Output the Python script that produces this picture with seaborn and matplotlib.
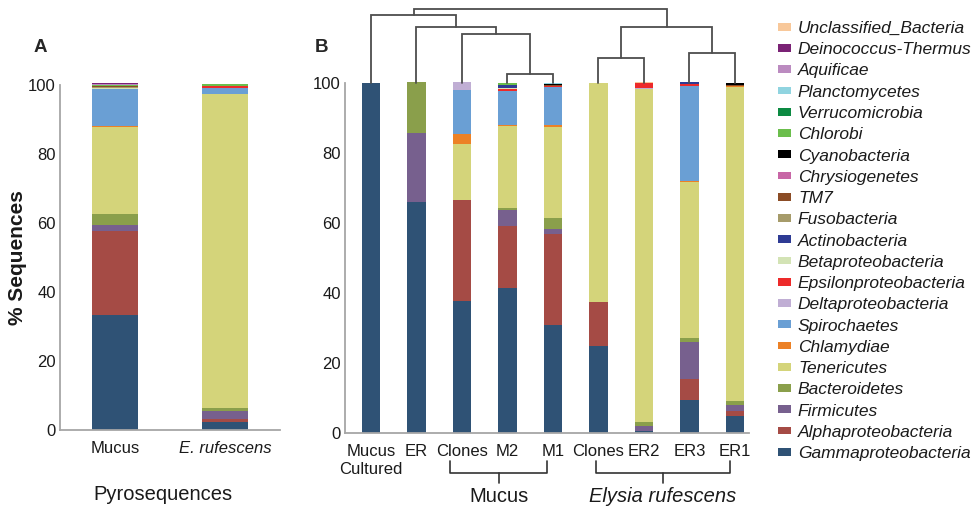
import numpy as np
import pandas as pd
import matplotlib.pyplot as plt
import seaborn as sns
from matplotlib.patches import Patch

# Phyla in stacking order (bottom to top) and their colours
phyla = [
    "Gammaproteobacteria", "Alphaproteobacteria", "Firmicutes", "Bacteroidetes",
    "Tenericutes", "Chlamydiae", "Spirochaetes", "Deltaproteobacteria",
    "Epsilonproteobacteria", "Betaproteobacteria", "Actinobacteria", "Fusobacteria",
    "TM7", "Chrysiogenetes", "Cyanobacteria", "Chlorobi", "Verrucomicrobia",
    "Planctomycetes", "Aquificae", "Deinococcus-Thermus", "Unclassified_Bacteria",
]
phylum_colors = [
    "#2f5275", "#a54b45", "#77608e", "#8a9f4b",
    "#d4d47a", "#ec8126", "#6a9fd4", "#c0aed4",
    "#ed2a2a", "#d3e3b5", "#2e3b94", "#a69b6a",
    "#8b4c25", "#c866a6", "#000000", "#6bbe4c", "#0c8a42",
    "#90d4e0", "#bb8bc0", "#7a2275", "#f8c89a",
]

# Panel A: pyrosequences (% of sequences per phylum, same order as phyla)
pyro_ids = ["Mucus", "E. rufescens"]
pyro_mucus = [33.3, 24.4, 1.7, 3.1, 25.3, 0.3, 10.6, 0, 0, 0.3, 0, 0.5, 0.2, 0, 0, 0.2, 0, 0, 0.3, 0.3, 0]
pyro_erufescens = [2.4, 0.8, 2.3, 1.0, 90.8, 0.2, 1.7, 0, 0.6, 0, 0, 0, 0, 0, 0, 0.4, 0, 0, 0, 0, 0]

# Panel B: cultured isolates and clone libraries
clone_ids = ["cult_mucus", "cult_er", "clones_mucus", "M2", "M1", "clones_er", "ER2", "ER3", "ER1"]
clone_ticklabels = ["Mucus\nCultured", "ER", "Clones", "M2", "M1", "Clones", "ER2", "ER3", "ER1"]
cult_mucus = [100, 0, 0, 0, 0, 0, 0, 0, 0, 0, 0, 0, 0, 0, 0, 0, 0, 0, 0, 0, 0]
cult_er = [65.9, 0, 19.8, 14.6, 0, 0, 0, 0, 0, 0, 0, 0, 0, 0, 0, 0, 0, 0, 0, 0, 0]
clones_mucus = [37.7, 28.8, 0, 0, 16.2, 2.6, 12.6, 2.4, 0, 0, 0, 0, 0, 0, 0, 0, 0, 0, 0, 0, 0]
m2 = [41.3, 17.9, 4.4, 0.7, 23.3, 0.3, 9.7, 0, 0.8, 0.3, 0.8, 0, 0, 0, 0, 0.6, 0, 0, 0, 0, 0]
m1 = [30.9, 26.0, 1.3, 3.1, 26.2, 0.4, 10.9, 0, 0.3, 0, 0, 0, 0.3, 0, 0.2, 0, 0, 0.3, 0, 0, 0]
clones_er = [25.0, 12.5, 0, 0, 62.5, 0, 0, 0, 0, 0, 0, 0, 0, 0, 0, 0, 0, 0, 0, 0, 0]
er2 = [0.5, 0, 1.6, 1.1, 95.2, 0, 0, 0.3, 1.2, 0, 0, 0, 0, 0, 0, 0, 0, 0, 0, 0, 0.3]
er3 = [9.5, 5.9, 10.7, 1.1, 44.4, 0.5, 27.1, 0, 0.5, 0, 0.5, 0, 0, 0, 0, 0, 0, 0, 0, 0, 0]
er1 = [4.9, 1.3, 1.7, 1.2, 89.8, 0.3, 0, 0, 0, 0, 0, 0, 0.2, 0, 0.7, 0, 0, 0, 0, 0, 0]

# Dendrogram over panel B: (left node, right node, height); nodes 0-8 are the bars,
# each link creates the next node number (9, 10, ...)
dendro_links = [(3, 4, 102.6), (2, 9, 114.0), (1, 10, 116.0), (0, 11, 119.4),
                (5, 6, 107.1), (7, 8, 108.6), (13, 14, 116.0), (12, 15, 121.1)]


def stacked_bars(ax, sample_ids, rows, width):
    df = pd.DataFrame(rows, index=sample_ids, columns=phyla)
    bottoms = np.zeros(len(sample_ids))
    for name, color in zip(phyla, phylum_colors):
        sns.barplot(x=sample_ids, y=df[name].to_numpy(), bottom=bottoms.copy(),
                    color=color, saturation=1, width=width, errorbar=None,
                    linewidth=0, clip_on=False, ax=ax)
        bottoms += df[name].to_numpy()


sns.set_style("white")
plt.rcParams["font.family"] = ["Liberation Sans", "DejaVu Sans"]

fig = plt.figure(figsize=(9.74, 5.09), dpi=100)
ax_a = fig.add_axes([60 / 974, 1 - 430 / 509, 220 / 974, 345 / 509])
ax_b = fig.add_axes([345 / 974, 1 - 433 / 509, 404 / 974, 350 / 509])

stacked_bars(ax_a, pyro_ids, [pyro_mucus, pyro_erufescens], 0.41)
stacked_bars(ax_b, clone_ids,
             [cult_mucus, cult_er, clones_mucus, m2, m1, clones_er, er2, er3, er1], 0.40)

axis_grey = "#a6a6a6"
for ax in (ax_a, ax_b):
    ax.set_ylim(0, 100)
    ax.set_yticks(range(0, 101, 20))
    ax.set_xlabel("")
    ax.set_ylabel("")
    sns.despine(ax=ax)
    for side in ("left", "bottom"):
        ax.spines[side].set_color(axis_grey)
        ax.spines[side].set_linewidth(1.3)
    ax.tick_params(axis="y", length=2, width=1, color=axis_grey, pad=1,
                   labelsize=12, labelcolor="#1a1a1a")
    ax.tick_params(axis="x", which="major", length=0, pad=8,
                   labelsize=12, labelcolor="#1a1a1a")
    ax.tick_params(axis="x", which="minor", length=4, width=1, color=axis_grey)

ax_a.set_xlim(-0.5, 1.5)
ax_a.set_xticks([0, 1])
ax_a.set_xticklabels(["Mucus", "E. rufescens"])
ax_a.get_xticklabels()[1].set_fontstyle("italic")
ax_a.set_xticks([0.5, 1.5], minor=True)

n = len(clone_ids)
ax_b.set_xlim(-0.57, n - 0.69)
ax_b.set_xticks(range(n))
ax_b.set_xticklabels(clone_ticklabels)
ax_b.set_xticks([i + 0.5 for i in range(n - 1)], minor=True)

# dendrogram
pos = {i: float(i) for i in range(n)}
height = {i: 100.0 for i in range(n)}
for k, (left, right, h) in enumerate(dendro_links):
    xl, xr = pos[left], pos[right]
    ax_b.plot([xl, xl, xr, xr], [height[left], h, h, height[right]],
              color="#4d4d4d", lw=1.3, clip_on=False, solid_joinstyle="miter")
    pos[n + k] = (xl + xr) / 2
    height[n + k] = h

# group brackets under panel B
bt = ax_b.get_xaxis_transform()
for x0, x1, label, style in [(1.74, 3.87, "Mucus", "normal"),
                             (4.95, 7.89, "Elysia rufescens", "italic")]:
    xm = (x0 + x1) / 2
    ax_b.plot([x0, x0, x1, x1], [-0.08, -0.114, -0.114, -0.08], color="#333333",
              lw=1.2, transform=bt, clip_on=False)
    ax_b.plot([xm, xm], [-0.114, -0.143], color="#333333", lw=1.2,
              transform=bt, clip_on=False)
    ax_b.text(xm, -0.18, label, transform=bt, ha="center", va="center",
              fontsize=14.5, fontstyle=style, color="#1a1a1a")

fig.text(163 / 974, 1 - 495 / 509, "Pyrosequences", ha="center", va="center",
         fontsize=14.5, color="#1a1a1a")
fig.text(18 / 974, 1 - 258 / 509, "% Sequences", rotation=90, ha="center",
         va="center", fontsize=15, fontweight="bold", color="#1a1a1a")
fig.text(40 / 974, 1 - 47 / 509, "A", ha="center", va="center", fontsize=13.5,
         fontweight="bold")
fig.text(322 / 974, 1 - 47 / 509, "B", ha="center", va="center", fontsize=13.5,
         fontweight="bold")

handles = [Patch(facecolor=c, edgecolor="none") for c in phylum_colors][::-1]
leg = fig.legend(handles, phyla[::-1], loc="upper left",
                 bbox_to_anchor=(778 / 974, 1 - 21 / 509), frameon=False,
                 borderpad=0, borderaxespad=0, handlelength=0.75, handleheight=0.3,
                 handletextpad=0.4, labelspacing=0.36,
                 prop={"size": 12.5, "style": "italic"})
for t in leg.get_texts():
    t.set_color("#1a1a1a")

fig.savefig("out.png", dpi=100)
